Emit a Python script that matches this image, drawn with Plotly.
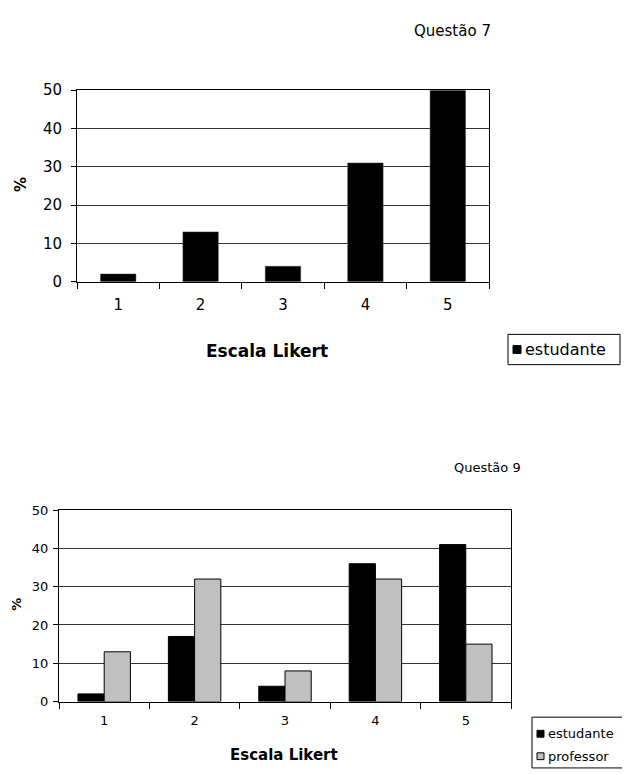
import plotly.graph_objects as go

categorias = ["1", "2", "3", "4", "5"]
q7_estudante = [2, 13, 4, 31, 50]
q9_estudante = [2, 17, 4, 36, 41]
q9_professor = [13, 32, 8, 32, 15]
y_ticks = [0, 10, 20, 30, 40, 50]

# page body has an 8px default margin: draw in page pixels, convert to figure
PAGE_W, PAGE_H, OFF = 630, 775, 8
W, H = PAGE_W - OFF, PAGE_H - OFF
FONT = "DejaVu Sans, Verdana, sans-serif"

def px(x):
    return (x - OFF) / W

def py(y):
    return 1 - (y - OFF) / H

fig = go.Figure()

fig.add_trace(go.Bar(x=categorias, y=q7_estudante, name="estudante",
                     marker=dict(color="black", line=dict(color="#404040", width=0.5)),
                     width=0.43, xaxis="x", yaxis="y", showlegend=False))
fig.add_trace(go.Bar(x=categorias, y=q9_estudante, name="estudante",
                     marker=dict(color="black", line=dict(color="black", width=1)),
                     width=0.29, offset=-0.29, xaxis="x2", yaxis="y2", showlegend=False))
fig.add_trace(go.Bar(x=categorias, y=q9_professor, name="professor",
                     marker=dict(color="#C0C0C0", line=dict(color="black", width=1)),
                     width=0.29, offset=0, xaxis="x2", yaxis="y2", showlegend=False))

axis_common = dict(type="category", tickson="boundaries", ticks="outside", ticklen=6,
                   tickcolor="black", showline=True, linecolor="black", linewidth=1,
                   mirror=True, showgrid=False, zeroline=False, fixedrange=True)
yaxis_common = dict(range=[0, 50], tickvals=y_ticks, ticks="outside", ticklen=5,
                    tickcolor="black", showline=True, linecolor="black", linewidth=1,
                    mirror=True, showgrid=True, gridcolor="#333333", gridwidth=1,
                    zeroline=False, fixedrange=True)

fig.update_layout(
    width=W, height=H,
    margin=dict(l=0, r=0, t=0, b=0),
    paper_bgcolor="white", plot_bgcolor="white",
    font=dict(family=FONT, color="black"),
    barmode="overlay",
    showlegend=False,
    xaxis=dict(axis_common, domain=[px(77), px(489)], anchor="y",
               tickfont=dict(size=15), ticklabelstandoff=9),
    yaxis=dict(yaxis_common, domain=[py(279), py(83)], anchor="x",
               tickfont=dict(size=15), ticklabelstandoff=6),
    xaxis2=dict(axis_common, domain=[px(59), px(511)], anchor="y2",
                tickfont=dict(size=13), ticklabelstandoff=7),
    yaxis2=dict(yaxis_common, domain=[py(709), py(513)], anchor="x2",
                tickfont=dict(size=13), ticklabelstandoff=2),
)

# legend boxes (drawn as shapes + text)
legend_items = [
    dict(box=(508, 333, 620, 364), items=[("estudante", "black", 348.5)], size=16, sq=8),
    dict(box=(532, 725, 632, 777), items=[("estudante", "black", 742), ("professor", "#C0C0C0", 765)], size=13, sq=7),
]
shapes = []
annotations = []
for lg in legend_items:
    x0, y0, x1, y1 = lg["box"]
    shapes.append(dict(type="rect", xref="paper", yref="paper", x0=px(x0), x1=px(x1),
                       y0=py(y1), y1=py(y0), line=dict(color="black", width=1),
                       fillcolor="white", layer="above"))
    for label, colour, yc in lg["items"]:
        sx = x0 + 5
        s = lg["sq"]
        shapes.append(dict(type="rect", xref="paper", yref="paper", x0=px(sx), x1=px(sx + s),
                           y0=py(yc + s / 2), y1=py(yc - s / 2),
                           line=dict(color="black", width=1), fillcolor=colour, layer="above"))
        annotations.append(dict(text=label, x=px(sx + s + 2), y=py(yc), xanchor="left",
                                yanchor="middle", font=dict(size=lg["size"])))

texts = [
    dict(text="Questão 7", x=px(452), y=py(22), font=dict(size=15)),
    dict(text="Questão 9", x=px(487), y=py(469), font=dict(size=13)),
    dict(text="<b>Escala Likert</b>", x=px(267), y=py(350), font=dict(size=17)),
    dict(text="<b>Escala Likert</b>", x=px(284), y=py(764), font=dict(size=15)),
    dict(text="<b>%</b>", x=px(21), y=py(180), font=dict(size=15), textangle=-90),
    dict(text="<b>%</b>", x=px(17), y=py(610), font=dict(size=13), textangle=-90),
]
for t in texts:
    t.update(xanchor="center", yanchor="middle")
annotations.extend(texts)
for a in annotations:
    a.update(xref="paper", yref="paper", showarrow=False)

fig.update_layout(annotations=annotations, shapes=shapes)

fig.write_html("out.html")
